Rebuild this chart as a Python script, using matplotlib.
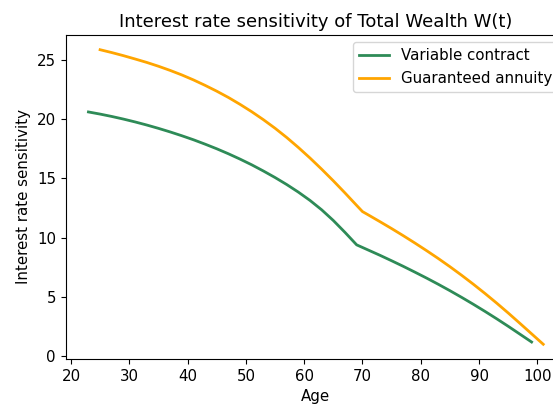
import matplotlib
matplotlib.use("Agg")
import matplotlib.pyplot as plt

plt.rcParams["font.size"] = 10.8

# sensitivity of total wealth to the interest rate, by age
ages_variable = [23, 25, 27, 29, 31, 33, 35, 37, 39, 41, 43, 45, 47, 49, 51, 53, 55, 57, 59, 61, 63, 65, 67, 69,
                 71, 73, 75, 77, 79, 81, 83, 85, 87, 89, 91, 93, 95, 97, 99]
sens_variable = [20.59, 20.41, 20.21, 19.99, 19.75, 19.49, 19.21, 18.91, 18.59, 18.25, 17.88, 17.49,
                 17.07, 16.62, 16.14, 15.62, 15.07, 14.48, 13.84, 13.14, 12.35, 11.45, 10.45, 9.4,
                 8.96, 8.52, 8.06, 7.59, 7.10, 6.60, 6.08, 5.54, 4.98, 4.40, 3.80, 3.18, 2.54, 1.88, 1.22]

ages_annuity = [25, 27, 29, 31, 33, 35, 37, 39, 41, 43, 45, 47, 49, 51, 53, 55, 57, 59, 61, 63, 65, 67, 69, 70,
                71, 73, 75, 77, 79, 81, 83, 85, 87, 89, 91, 93, 95, 97, 99, 101]
sens_annuity = [25.83, 25.59, 25.33, 25.05, 24.76, 24.44, 24.09, 23.71, 23.29, 22.83, 22.34, 21.81,
                21.23, 20.61, 19.94, 19.22, 18.44, 17.60, 16.71, 15.77, 14.79, 13.77, 12.72, 12.2,
                11.92, 11.35, 10.77, 10.17, 9.55, 8.91, 8.25, 7.56, 6.84, 6.09, 5.31, 4.50, 3.66, 2.79,
                1.91, 1.03]

fig = plt.figure(figsize=(5.53, 4.05), dpi=100)
ax = fig.add_axes([0.1188, 0.1136, 0.9047, 0.8])

ax.plot(ages_variable, sens_variable, color="seagreen", lw=2, label="Variable contract")
ax.plot(ages_annuity, sens_annuity, color="orange", lw=2, label="Guaranteed annuity")

ax.set_title("Interest rate sensitivity of Total Wealth W(t)", fontsize=13)
ax.set_xlabel("Age")
ax.set_ylabel("Interest rate sensitivity")
ax.legend(loc="upper right")

fig.savefig("out.png", dpi=100)
